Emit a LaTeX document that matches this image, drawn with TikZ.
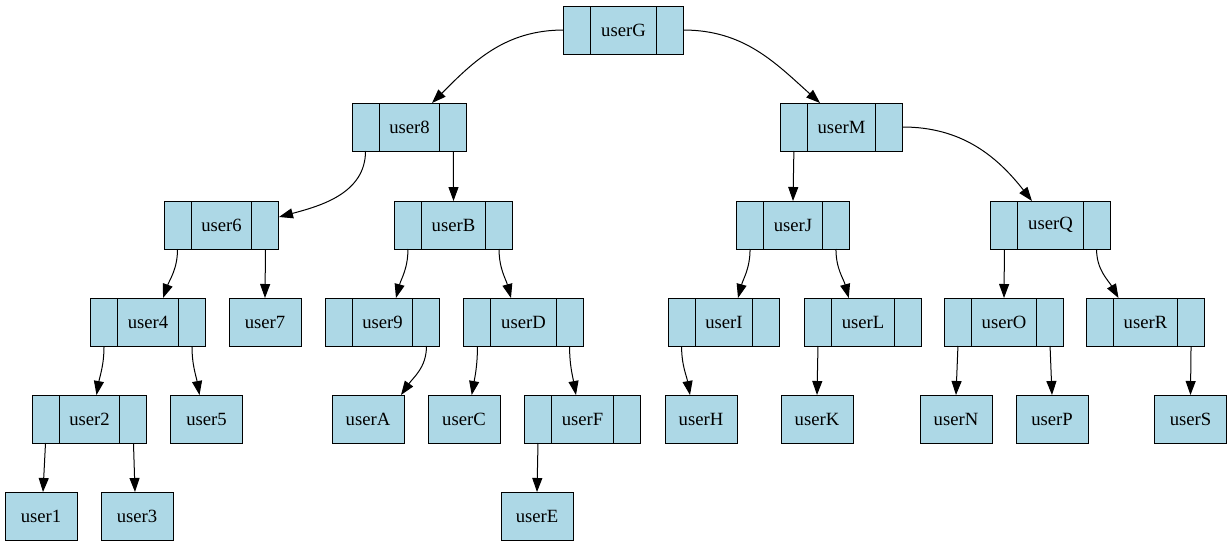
\documentclass[tikz,border=0pt]{standalone}
\usepackage{fontspec}
\setmainfont{Liberation Serif}
\usetikzlibrary{positioning, arrows.meta}
\definecolor{userblue}{RGB}{173,216,230}

\begin{document}
\begin{tikzpicture}[x = 0.75pt, y = 0.75pt]
	\useasboundingbox (0, 0) rectangle (1232, -547);

	% Cell styles for the records and the leaves
	\tikzset{cell/.style = {draw, line width = 0.75pt, fill = userblue, outer sep = 0pt, minimum height = 36pt, inner xsep = 7.7pt, inner ysep = 0pt, font = \fontsize{14pt}{16pt}\selectfont}}
	\tikzset{side/.style = {cell, minimum width = 20.25pt}}
	\tikzset{leaf/.style = {cell, minimum width = 54pt}}

	% Arrow style with graphviz-like filled heads
	\tikzset{link/.style = {-{Triangle[length = 10.5pt, width = 7.5pt]}, line width = 0.75pt}}

	% Draw the records (middle cell with a side cell left and right)
	\node[cell] (userG) at (623.5, -30) {userG};
	\node[side, left = 0pt of userG] (userG-l) {};
	\node[side, right = 0pt of userG] (userG-r) {};

	\node[cell] (user8) at (409.5, -127) {user8};
	\node[side, left = 0pt of user8] (user8-l) {};
	\node[side, right = 0pt of user8] (user8-r) {};

	\node[cell] (userM) at (841.5, -127) {userM};
	\node[side, left = 0pt of userM] (userM-l) {};
	\node[side, right = 0pt of userM] (userM-r) {};

	\node[cell] (user6) at (221.5, -225) {user6};
	\node[side, left = 0pt of user6] (user6-l) {};
	\node[side, right = 0pt of user6] (user6-r) {};

	\node[cell] (userB) at (453.5, -225) {userB};
	\node[side, left = 0pt of userB] (userB-l) {};
	\node[side, right = 0pt of userB] (userB-r) {};

	\node[cell] (userJ) at (793, -225) {userJ};
	\node[side, left = 0pt of userJ] (userJ-l) {};
	\node[side, right = 0pt of userJ] (userJ-r) {};

	\node[cell] (userQ) at (1050.5, -225) {userQ};
	\node[side, left = 0pt of userQ] (userQ-l) {};
	\node[side, right = 0pt of userQ] (userQ-r) {};

	\node[cell] (user4) at (148, -322) {user4};
	\node[side, left = 0pt of user4] (user4-l) {};
	\node[side, right = 0pt of user4] (user4-r) {};

	\node[cell] (user9) at (382.5, -322) {user9};
	\node[side, left = 0pt of user9] (user9-l) {};
	\node[side, right = 0pt of user9] (user9-r) {};

	\node[cell] (userD) at (523.5, -322) {userD};
	\node[side, left = 0pt of userD] (userD-l) {};
	\node[side, right = 0pt of userD] (userD-r) {};

	\node[cell] (userI) at (724, -322) {userI};
	\node[side, left = 0pt of userI] (userI-l) {};
	\node[side, right = 0pt of userI] (userI-r) {};

	\node[cell] (userL) at (863, -322) {userL};
	\node[side, left = 0pt of userL] (userL-l) {};
	\node[side, right = 0pt of userL] (userL-r) {};

	\node[cell] (userO) at (1004, -322) {userO};
	\node[side, left = 0pt of userO] (userO-l) {};
	\node[side, right = 0pt of userO] (userO-r) {};

	\node[cell] (userR) at (1145.5, -322) {userR};
	\node[side, left = 0pt of userR] (userR-l) {};
	\node[side, right = 0pt of userR] (userR-r) {};

	\node[cell] (user2) at (89.5, -419) {user2};
	\node[side, left = 0pt of user2] (user2-l) {};
	\node[side, right = 0pt of user2] (user2-r) {};

	\node[cell] (userF) at (582.5, -419) {userF};
	\node[side, left = 0pt of userF] (userF-l) {};
	\node[side, right = 0pt of userF] (userF-r) {};

	% Draw the leaves
	\node[leaf] (user7) at (265, -322) {user7};
	\node[leaf] (user5) at (206.5, -419) {user5};
	\node[leaf] (userA) at (368, -419) {userA};
	\node[leaf] (userC) at (464, -419) {userC};
	\node[leaf] (userH) at (701, -419) {userH};
	\node[leaf] (userK) at (817, -419) {userK};
	\node[leaf] (userN) at (956, -419) {userN};
	\node[leaf] (userP) at (1052, -419) {userP};
	\node[leaf] (userS) at (1190.5, -419) {userS};
	\node[leaf] (user1) at (41, -516) {user1};
	\node[leaf] (user3) at (137, -516) {user3};
	\node[leaf] (userE) at (537, -516) {userE};

	% Draw the links from each parent to its children
	\draw[link] (userG-l.west) to[out = 180, in = 45] ([xshift = 16.9pt]user8.north);
	\draw[link] (userG-r.east) to[out = 0, in = 138] ([xshift = -16.1pt]userM.north);
	\draw[link] (user8-l.south) to[out = -90, in = 15] ([yshift = 6pt]user6-r.east);
	\draw[link] (user8-r.south) -- (userB.north);
	\draw[link] (userM-l.south) -- (userJ.north);
	\draw[link] (userM-r.east) to[out = 0, in = 128] ([xshift = -13.9pt]userQ.north);

	\draw[link] (user6-l.south) to[out = -90, in = 70] ([xshift = 11.25pt]user4.north);
	\draw[link] (user6-r.south) -- (user7.north);
	\draw[link] (userB-l.south) to[out = -90, in = 75] ([xshift = 10.1pt]user9.north);
	\draw[link] (userB-r.south) to[out = -90, in = 105] ([xshift = -9.4pt]userD.north);
	\draw[link] (userJ-l.south) to[out = -90, in = 75] ([xshift = 10.5pt]userI.north);
	\draw[link] (userJ-r.south) to[out = -90, in = 105] ([xshift = -10.7pt]userL.north);
	\draw[link] (userQ-l.south) -- (userO.north);
	\draw[link] (userQ-r.south) to[out = -90, in = 120] ([xshift = -20.25pt]userR.north);

	\draw[link] (user4-l.south) to[out = -90, in = 80] ([xshift = 5.25pt]user2.north);
	\draw[link] (user4-r.south) to[out = -90, in = 100] ([xshift = -5.25pt]user5.north);
	\draw[link] (user9-r.south) to[out = -90, in = 55] ([xshift = 24.75pt]userA.north);
	\draw[link] (userD-l.south) to[out = -90, in = 80] ([xshift = 5.8pt]userC.north);
	\draw[link] (userD-r.south) to[out = -90, in = 100] ([xshift = -4.9pt]userF.north);
	\draw[link] (userI-l.south) to[out = -90, in = 100] ([xshift = -8.25pt]userH.north);
	\draw[link] (userL-l.south) -- (userK.north);
	\draw[link] (userO-l.south) -- (userN.north);
	\draw[link] (userO-r.south) -- (userP.north);
	\draw[link] (userR-r.south) -- (userS.north);

	\draw[link] (user2-l.south) -- ([xshift = 1.5pt]user1.north);
	\draw[link] (user2-r.south) -- ([xshift = -1.5pt]user3.north);
	\draw[link] (userF-l.south) -- (userE.north);
\end{tikzpicture}
\end{document}
